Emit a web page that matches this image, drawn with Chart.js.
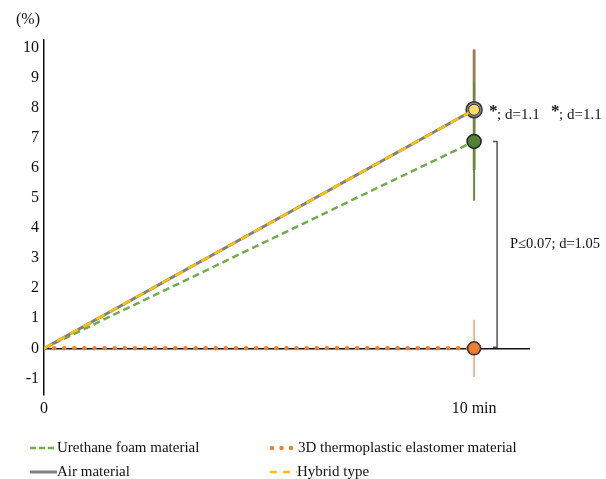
<!DOCTYPE html>
<html>
<head>
<meta charset="utf-8">
<script src="https://cdn.jsdelivr.net/npm/chart.js@4/dist/chart.umd.min.js"></script>
<style>
  html, body { margin: 0; padding: 0; background: #fff; }
  #wrap { width: 606px; height: 479px; }
</style>
</head>
<body>
<div id="wrap"><canvas id="chart" width="606" height="479"></canvas></div>
<script>
const times = [0, 10]
const urethane = [0, 6.88]
const urethaneErr = [0, 1.97]
const elastomer = [0, 0]
const elastomerErr = [0, 0.95]
const air = [0, 7.93]
const airErr = [0, 2.0]
const hybrid = [0, 7.93]
const hybridErr = [0, 2.0]

const yTicks = [-1, 0, 1, 2, 3, 4, 5, 6, 7, 8, 9, 10]
const xTicks = [0, 10]
const xTickLabels = ['0', '10 min']

const FONT = '"Liberation Serif", "Times New Roman", serif'

const toXY = arr => times.map((t, i) => ({ x: t, y: arr[i] }))

// error bars sit behind the markers
const errorBars = {
  id: 'errorBars',
  beforeDatasetsDraw(chart) {
    const { ctx, scales: { x, y } } = chart
    const bars = [
      { vals: air, err: airErr, color: '#9c7c52', w: 2.5 },
      { vals: hybrid, err: hybridErr, color: '#9c7c52', w: 2.5 },
      { vals: urethane, err: urethaneErr, color: '#5e8f3c', w: 2 },
      { vals: elastomer, err: elastomerErr, color: '#f0a273', w: 1.5 }
    ]
    ctx.save()
    bars.forEach(b => {
      times.forEach((t, i) => {
        if (!b.err[i]) return
        const px = x.getPixelForValue(t)
        ctx.strokeStyle = b.color
        ctx.lineWidth = b.w
        ctx.beginPath()
        ctx.moveTo(px, y.getPixelForValue(b.vals[i] + b.err[i]))
        ctx.lineTo(px, y.getPixelForValue(b.vals[i] - b.err[i]))
        ctx.stroke()
      })
    })
    ctx.restore()
  }
}

const annotations = {
  id: 'annotations',
  afterDraw(chart) {
    const { ctx, scales: { x, y } } = chart
    ctx.save()
    ctx.fillStyle = '#111'
    ctx.textBaseline = 'middle'

    // unit label
    ctx.font = `16px ${FONT}`
    ctx.textAlign = 'center'
    ctx.fillText('(%)', 28, 20)

    // significance marks next to the 10 min points
    const yStar = y.getPixelForValue(air[1]) + 5
    ctx.textAlign = 'left'
    ;[489, 551].forEach(sx => {
      ctx.font = `bold 17px ${FONT}`
      ctx.fillText('*', sx, yStar - 3)
      ctx.font = `15px ${FONT}`
      ctx.fillText('; d=1.1', sx + 8, yStar)
    })

    // bracket between urethane and elastomer
    const bx = x.getPixelForValue(10) + 23
    const top = y.getPixelForValue(urethane[1])
    const bot = y.getPixelForValue(elastomer[1]) - 1
    ctx.strokeStyle = '#555'
    ctx.lineWidth = 1.5
    ctx.beginPath()
    ctx.moveTo(bx - 4, top)
    ctx.lineTo(bx, top)
    ctx.lineTo(bx, bot)
    ctx.lineTo(bx - 4, bot)
    ctx.stroke()
    ctx.font = `14.5px ${FONT}`
    ctx.fillText('P≤0.07; d=1.05', bx + 13, (top + bot) / 2)

    // legend, two columns
    const rows = [
      { x: 30, y: 448, label: 'Urethane foam material', color: '#70ad47', dash: [6, 3], w: 2.5 },
      { x: 270, y: 448, label: '3D thermoplastic elastomer material', color: '#ed7d31', dots: true },
      { x: 30, y: 472, label: 'Air material', color: '#808080', dash: [], w: 3 },
      { x: 270, y: 472, label: 'Hybrid type', color: '#ffc000', dash: [7, 6], w: 2.5 }
    ]
    rows.forEach(r => {
      if (r.dots) {
        ctx.fillStyle = r.color
        ;[272, 281.5, 291].forEach(dx => {
          ctx.beginPath()
          ctx.arc(dx, r.y, 2.2, 0, Math.PI * 2)
          ctx.fill()
        })
      } else {
        ctx.strokeStyle = r.color
        ctx.lineWidth = r.w
        ctx.setLineDash(r.dash)
        ctx.beginPath()
        ctx.moveTo(r.x, r.y)
        ctx.lineTo(r.x + 27, r.y)
        ctx.stroke()
        ctx.setLineDash([])
      }
      ctx.fillStyle = '#111'
      ctx.font = `15px ${FONT}`
      ctx.textAlign = 'left'
      ctx.fillText(r.label, r.dots ? 298 : r.x + 27, r.y)
    })
    ctx.restore()
  }
}

new Chart(document.getElementById('chart'), {
  type: 'line',
  data: {
    datasets: [
      {
        label: 'Hybrid type',
        data: toXY(hybrid),
        borderColor: '#ffc000',
        borderWidth: 2.5,
        borderDash: [9, 6],
        pointRadius: [0, 5.5],
        pointBackgroundColor: '#ffd966',
        pointBorderColor: '#333',
        pointBorderWidth: 1,
        tension: 0
      },
      {
        label: 'Air material',
        data: toXY(air),
        borderColor: '#808080',
        borderWidth: 3,
        pointRadius: [0, 8],
        pointBackgroundColor: '#8a8a8a',
        pointBorderColor: '#333',
        pointBorderWidth: 1.5,
        tension: 0
      },
      {
        label: 'Urethane foam material',
        data: toXY(urethane),
        borderColor: '#70ad47',
        borderWidth: 2.5,
        borderDash: [7, 4],
        pointRadius: [0, 7],
        pointBackgroundColor: '#548235',
        pointBorderColor: '#222',
        pointBorderWidth: 1.5,
        tension: 0
      },
      {
        label: '3D thermoplastic elastomer material',
        data: toXY(elastomer),
        borderColor: '#ed7d31',
        borderWidth: 4.5,
        borderDash: [0.1, 10],
        borderCapStyle: 'round',
        pointRadius: [0, 6.5],
        pointBackgroundColor: '#ed7d31',
        pointBorderColor: '#333',
        pointBorderWidth: 1.5,
        tension: 0
      }
    ]
  },
  options: {
    responsive: false,
    animation: false,
    layout: { padding: { top: 40, right: 76, bottom: 54, left: 0 } },
    plugins: {
      legend: { display: false },
      tooltip: { enabled: false }
    },
    scales: {
      x: {
        type: 'linear',
        min: 0,
        max: 11.3,
        afterBuildTicks: s => { s.ticks = xTicks.map(v => ({ value: v })) },
        afterFit: s => { s.height = 30 },
        border: { display: false },
        grid: { display: false, drawTicks: false },
        ticks: {
          autoSkip: false,
          maxRotation: 0,
          padding: 4,
          color: '#111',
          font: { family: FONT, size: 16 },
          callback: v => xTickLabels[xTicks.indexOf(v)]
        }
      },
      y: {
        min: -1.55,
        max: 10.25,
        afterBuildTicks: s => { s.ticks = yTicks.map(v => ({ value: v })) },
        afterFit: s => { s.width = 44 },
        border: { display: true, color: '#111', width: 1.5 },
        grid: {
          drawTicks: false,
          color: c => c.tick && c.tick.value === 0 ? '#111' : 'rgba(0,0,0,0)',
          lineWidth: 1.5
        },
        ticks: {
          padding: 5,
          color: '#111',
          font: { family: FONT, size: 16 },
          callback: v => String(v)
        }
      }
    }
  },
  plugins: [errorBars, annotations]
})
</script>
</body>
</html>
